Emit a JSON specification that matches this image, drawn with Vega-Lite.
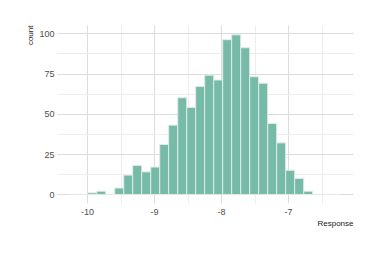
{
  "$schema": "https://vega.github.io/schema/vega-lite/v6.json",
  "width": 296,
  "height": 178,
  "autosize": "none",
  "padding": {"left": 57, "top": 25, "right": 27, "bottom": 50},
  "config": {
    "view": {"stroke": null},
    "font": "Liberation Sans",
    "axis": {"domain": false, "ticks": false, "labelFont": "Liberation Sans", "titleFont": "Liberation Sans"}
  },
  "data": {"values": [
    {"bin_start": -10.258, "bin_end": -10.124, "count": 0},
    {"bin_start": -10.124, "bin_end": -9.989, "count": 0},
    {"bin_start": -9.989, "bin_end": -9.855, "count": 1},
    {"bin_start": -9.855, "bin_end": -9.721, "count": 2},
    {"bin_start": -9.721, "bin_end": -9.587, "count": 0},
    {"bin_start": -9.587, "bin_end": -9.452, "count": 4},
    {"bin_start": -9.452, "bin_end": -9.318, "count": 12},
    {"bin_start": -9.318, "bin_end": -9.184, "count": 18},
    {"bin_start": -9.184, "bin_end": -9.049, "count": 14},
    {"bin_start": -9.049, "bin_end": -8.915, "count": 17},
    {"bin_start": -8.915, "bin_end": -8.781, "count": 31},
    {"bin_start": -8.781, "bin_end": -8.646, "count": 43},
    {"bin_start": -8.646, "bin_end": -8.512, "count": 60},
    {"bin_start": -8.512, "bin_end": -8.378, "count": 54},
    {"bin_start": -8.378, "bin_end": -8.244, "count": 67},
    {"bin_start": -8.244, "bin_end": -8.109, "count": 74},
    {"bin_start": -8.109, "bin_end": -7.975, "count": 71},
    {"bin_start": -7.975, "bin_end": -7.841, "count": 96},
    {"bin_start": -7.841, "bin_end": -7.706, "count": 99},
    {"bin_start": -7.706, "bin_end": -7.572, "count": 91},
    {"bin_start": -7.572, "bin_end": -7.438, "count": 73},
    {"bin_start": -7.438, "bin_end": -7.303, "count": 69},
    {"bin_start": -7.303, "bin_end": -7.169, "count": 44},
    {"bin_start": -7.169, "bin_end": -7.035, "count": 32},
    {"bin_start": -7.035, "bin_end": -6.901, "count": 15},
    {"bin_start": -6.901, "bin_end": -6.766, "count": 10},
    {"bin_start": -6.766, "bin_end": -6.632, "count": 2},
    {"bin_start": -6.632, "bin_end": -6.498, "count": 0},
    {"bin_start": -6.498, "bin_end": -6.363, "count": 0},
    {"bin_start": -6.363, "bin_end": -6.229, "count": 0}
  ]},
  "resolve": {"axis": {"x": "independent", "y": "independent"}},
  "layer": [
    {
      "mark": {"type": "bar", "opacity": 0},
      "encoding": {
        "x": {"field": "bin_start", "type": "quantitative",
          "scale": {"domain": [-10.448, -6.03], "nice": false, "zero": false},
          "axis": {"orient": "bottom", "values": [-9.5, -8.5, -7.5, -6.5], "labels": false, "title": null, "grid": true, "gridColor": "#EDEDED", "gridWidth": 1}},
        "x2": {"field": "bin_end"},
        "y": {"field": "count", "type": "quantitative",
          "scale": {"domain": [-5.3, 105.1], "nice": false, "zero": false},
          "axis": {"orient": "left", "values": [12.5, 37.5, 62.5, 87.5], "labels": false, "title": null, "grid": true, "gridColor": "#EDEDED", "gridWidth": 1}},
        "y2": {"datum": 0}
      }
    },
    {
      "mark": {"type": "bar", "fill": "#76BBA7", "stroke": "#E3EAE8", "strokeWidth": 1},
      "encoding": {
        "x": {"field": "bin_start", "type": "quantitative",
          "scale": {"domain": [-10.448, -6.03], "nice": false, "zero": false},
          "axis": {"orient": "bottom", "values": [-10, -9, -8, -7], "labelExpr": "'' + datum.value", "grid": true, "gridColor": "#DCDCDC", "gridWidth": 1,
            "labelFontSize": 9, "labelColor": "#4D4D4D", "labelPadding": 4,
            "title": "Response", "titleFontSize": 8, "titleFontWeight": "normal", "titleColor": "#1A1A1A", "titleAnchor": "end", "titlePadding": 3}},
        "x2": {"field": "bin_end"},
        "y": {"field": "count", "type": "quantitative",
          "scale": {"domain": [-5.3, 105.1], "nice": false, "zero": false},
          "axis": {"orient": "left", "values": [0, 25, 50, 75, 100], "labelExpr": "'' + datum.value", "grid": true, "gridColor": "#DCDCDC", "gridWidth": 1,
            "labelFontSize": 9, "labelColor": "#4D4D4D", "labelPadding": 3,
            "title": "count", "titleFontSize": 8, "titleFontWeight": "normal", "titleColor": "#1A1A1A", "titleAnchor": "end", "titlePadding": 4}},
        "y2": {"datum": 0}
      }
    }
  ]
}
